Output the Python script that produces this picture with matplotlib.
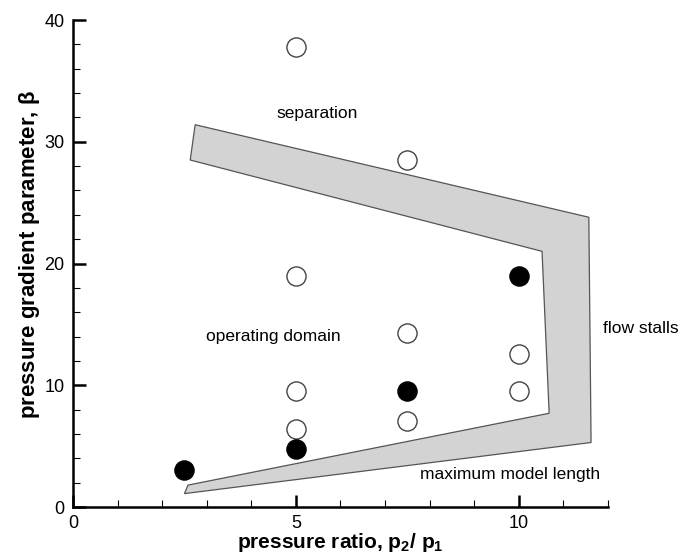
import matplotlib
matplotlib.use("Agg")
import matplotlib.pyplot as plt
from matplotlib.patches import Polygon
from matplotlib.ticker import MultipleLocator

plt.rcParams['font.family'] = ['Liberation Sans', 'DejaVu Sans']
plt.rcParams['mathtext.fontset'] = 'custom'
plt.rcParams['mathtext.rm'] = 'Liberation Sans'
plt.rcParams['mathtext.default'] = 'regular'

# Test cases: pressure ratio vs pressure gradient parameter
open_x = [5, 7.5, 5, 7.5, 10, 5, 10, 7.5, 5]
open_y = [37.8, 28.5, 19.0, 14.3, 12.6, 9.5, 9.5, 7.1, 6.4]
filled_x = [10, 7.5, 5, 2.5]
filled_y = [19.0, 9.5, 4.8, 3.0]

# Boundary band of the operating domain
band_x = [2.74, 11.57, 11.62, 2.50, 2.58, 10.68, 10.52, 2.63]
band_y = [31.4, 23.8, 5.3, 1.1, 1.8, 7.7, 21.0, 28.5]

fig = plt.figure(figsize=(6.91, 5.56), dpi=100)
ax = fig.add_axes([0.1056, 0.0881, 0.7743, 0.8759])

ax.add_patch(Polygon(list(zip(band_x, band_y)), closed=True,
                     facecolor='#d3d3d3', edgecolor='#555555', linewidth=0.9, zorder=2))

ax.scatter(open_x, open_y, s=190, facecolor='white', edgecolor='#444444',
           linewidth=1.0, zorder=3)
ax.scatter(filled_x, filled_y, s=190, facecolor='black', edgecolor='black',
           linewidth=1.0, zorder=3)

ax.set_xlim(0, 12)
ax.set_ylim(0, 40)
ax.xaxis.set_major_locator(MultipleLocator(5))
ax.xaxis.set_minor_locator(MultipleLocator(1))
ax.yaxis.set_major_locator(MultipleLocator(10))
ax.yaxis.set_minor_locator(MultipleLocator(2))

for side in ('top', 'right'):
    ax.spines[side].set_visible(False)
for side in ('left', 'bottom'):
    ax.spines[side].set_linewidth(1.8)

ax.tick_params(which='major', direction='in', length=9, width=1.8, labelsize=13, pad=6)
ax.tick_params(which='minor', direction='in', length=5, width=0.8)

ax.set_xlabel(r'pressure ratio, p$_2$/ p$_1$', fontsize=15,
              fontweight='bold', labelpad=-1)
ax.set_ylabel(r'pressure gradient parameter, $\beta$', fontsize=16,
              fontweight='bold', labelpad=2)
ax.yaxis.label.set_y(0.518)

ax.text(5.48, 32.3, 'separation', fontsize=12.5, ha='center', va='center')
ax.text(4.5, 14.0, 'operating domain', fontsize=12.5, ha='center', va='center')
ax.text(12.74, 14.7, 'flow stalls', fontsize=12.5, ha='center', va='center', clip_on=False)
ax.text(9.8, 2.7, 'maximum model length', fontsize=12.5, ha='center', va='center')

fig.savefig('out.png', dpi=100)
